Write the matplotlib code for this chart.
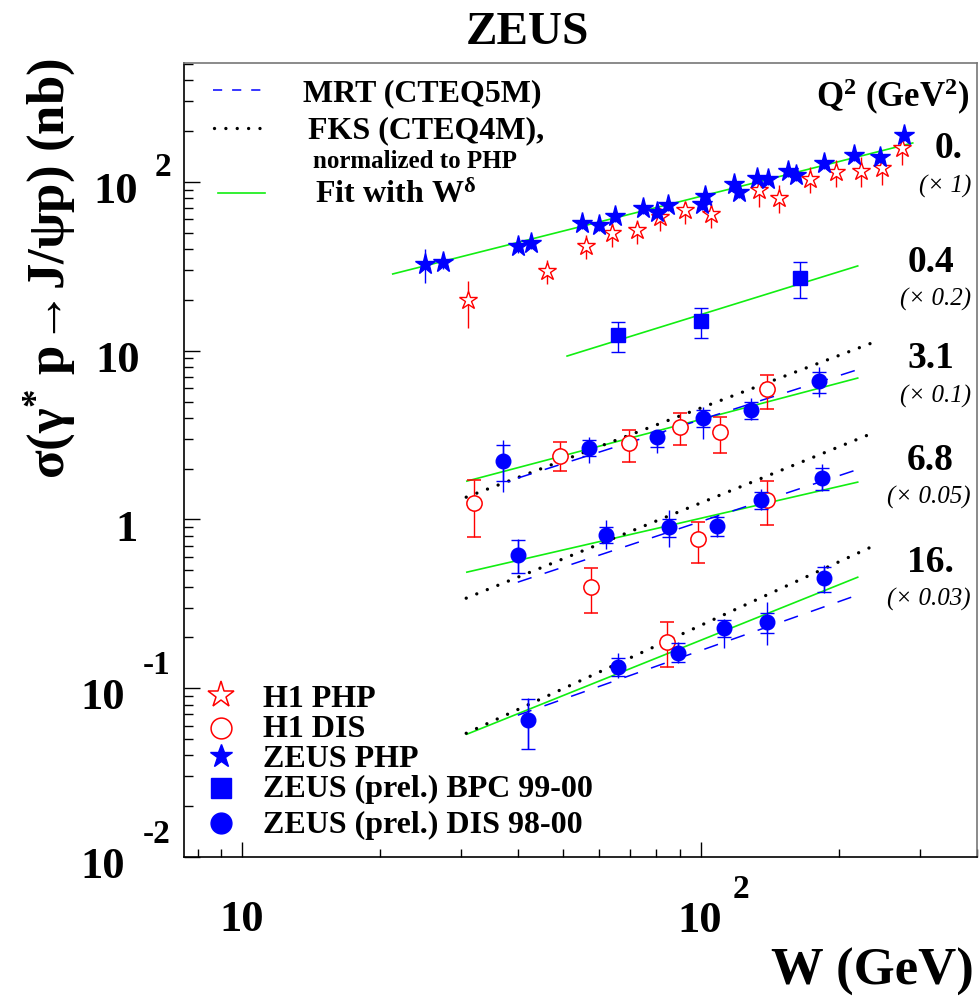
import matplotlib
matplotlib.use('Agg')
import matplotlib.pyplot as plt
from matplotlib.lines import Line2D
from matplotlib.ticker import LogLocator, NullFormatter

# ---------------- data (W in GeV, sigma in nb, already multiplied by the
# scale factor written next to each Q^2 value) ----------------

# Q^2 = 0 : photoproduction
h1_php_w = [31.1, 46.2, 56.2, 64.0, 72.5, 81.4, 92.3, 105.2, 133.8, 147.9,
            172.8, 196.9, 223.2, 248.0, 274.1]
h1_php_sig = [20.0, 29.7, 41.7, 49.8, 51.9, 62.0, 68.2, 64.6, 89.7, 80.4,
              104.2, 114.6, 116.2, 121.1, 159.0]
h1_php_lo = [13.6, 24.8, 35.0, 41.2, 42.9, 51.2, 56.4, 53.4, 71.1, 65.5,
             86.1, 93.4, 93.4, 96.0, 126.1]
h1_php_hi = [25.9, 34.5, 48.5, 57.1, 59.5, 70.1, 76.1, 75.1, 102.8, 96.0,
             122.7, 135.0, 140.7, 140.7, 175.1]

zeus_php_w = [25.0, 27.4, 39.9, 42.6, 55.0, 60.0, 65.0, 74.8, 80.2, 84.7,
              100.5, 102.0, 118.0, 121.0, 132.4, 140.0, 154.7, 161.0,
              185.3, 215.4, 245.5, 276.9]
zeus_php_sig = [32.6, 33.6, 41.7, 43.5, 57.1, 55.6, 62.9, 70.1, 66.4, 73.1,
                74.1, 82.6, 97.3, 87.2, 105.6, 104.2, 116.2, 110.0,
                129.6, 144.6, 140.7, 190.0]
zeus_php_err = [7.4, 3.0, 3.5, 3.6, 4.6, 4.5, 5.0, 5.6, 5.3, 5.8,
                5.9, 6.6, 7.8, 7.0, 8.4, 8.3, 9.3, 8.8, 10.4, 11.6, 11.3, 15.2]

# Q^2 = 0.4 : ZEUS BPC (x 0.2)
bpc_w = [65.9, 100.0, 164.3]
bpc_sig = [12.4, 15.0, 27.0]
bpc_lo = [9.82, 11.9, 20.5]
bpc_hi = [14.8, 17.9, 33.6]

# Q^2 = 3.1 (x 0.1)
zeus_q3_w = [37.0, 57.0, 80.2, 101.0, 128.5, 180.8]
zeus_q3_sig = [2.218, 2.648, 3.078, 3.99, 4.448, 6.61]
zeus_q3_tot_lo = [1.453, 2.158, 2.474, 2.995, 3.88, 5.313]
zeus_q3_tot_hi = [2.954, 3.078, 3.385, 4.634, 5.241, 8.0]
zeus_q3_stat_lo = [1.688, 2.374, 2.685, 3.527, 3.934, 5.61]
zeus_q3_stat_hi = [2.758, 2.954, 3.294, 4.448, 4.963, 7.47]
h1_q3_w = [32.0, 49.3, 69.7, 90.0, 110.0, 139.3]
h1_q3_sig = [1.250, 2.374, 2.835, 3.527, 3.294, 5.927]
h1_q3_lo = [0.786, 1.934, 2.188, 2.758, 2.474, 4.510]
h1_q3_hi = [1.711, 2.873, 3.385, 4.269, 4.044, 7.175]

# Q^2 = 6.8 (x 0.05)
zeus_q7_w = [39.9, 62.1, 85.2, 108.4, 135.1, 183.4]
zeus_q7_sig = [0.6147, 0.8077, 0.901, 0.913, 1.302, 1.759]
zeus_q7_tot_lo = [0.4808, 0.667, 0.6855, 0.786, 1.136, 1.472]
zeus_q7_tot_hi = [0.7645, 0.991, 1.136, 1.061, 1.513, 2.129]
zeus_q7_stat_lo = [0.4808, 0.724, 0.786, 0.7965, 1.152, 1.493]
zeus_q7_stat_hi = [0.7542, 0.901, 1.005, 1.033, 1.453, 2.015]
h1_q7_w = [57.6, 98.5, 139.3]
h1_q7_sig = [0.397, 0.7645, 1.302]
h1_q7_lo = [0.2784, 0.551, 0.9256]
h1_q7_hi = [0.5146, 0.9643, 1.688]

# Q^2 = 16 (x 0.03)
zeus_q16_w = [42.0, 65.9, 89.1, 112.2, 139.3, 185.3]
zeus_q16_sig = [0.0646, 0.1332, 0.1612, 0.2269, 0.2462, 0.4490]
zeus_q16_tot_lo = [0.0435, 0.1147, 0.1407, 0.1727, 0.1799, 0.3659]
zeus_q16_tot_hi = [0.0873, 0.1612, 0.1874, 0.2565, 0.3236, 0.5362]
zeus_q16_stat_lo = [0.0435, 0.1178, 0.1426, 0.2007, 0.2119, 0.3709]
zeus_q16_stat_hi = [0.0860, 0.1506, 0.1849, 0.2530, 0.2784, 0.5217]
h1_q16_w = [84.3]
h1_q16_sig = [0.1874]
h1_q16_lo = [0.1332]
h1_q16_hi = [0.2462]

# curves: end points (straight in log-log)
fit_w = {'0': [21.3, 289.7], '0.4': [51.1, 219.8], '3.1': [30.9, 219.8],
         '6.8': [30.9, 219.8], '16': [30.9, 219.8]}
fit_sig = {'0': [28.5, 170.3], '0.4': [9.30, 31.8], '3.1': [1.688, 6.887],
           '6.8': [0.4874, 1.665], '16': [0.0534, 0.4549]}
fks_w = {'3.1': [30.8, 235.8], '6.8': [30.8, 231.1], '16': [30.8, 234.7]}
fks_sig = {'3.1': [1.356, 11.11], '6.8': [0.3418, 3.162], '16': [0.0541, 0.6855]}
mrt_w = {'3.1': [39.9, 228.8], '6.8': [39.9, 227.7], '16': [39.9, 225.4]}
mrt_sig = {'3.1': [1.759, 8.0], '6.8': [0.4251, 2.043], '16': [0.0692, 0.3659]}

q2_labels = ['0.', '0.4', '3.1', '6.8', '16.']
scale_labels = ['(\u00d7 1)', '(\u00d7 0.2)', '(\u00d7 0.1)', '(\u00d7 0.05)', '(\u00d7 0.03)']

# ---------------- style ----------------
plt.rcParams['font.family'] = ['Liberation Serif', 'DejaVu Serif']
plt.rcParams['font.weight'] = 'bold'
plt.rcParams['mathtext.fontset'] = 'custom'
plt.rcParams['mathtext.rm'] = 'Liberation Serif'
plt.rcParams['mathtext.bf'] = 'Liberation Serif:bold'
plt.rcParams['mathtext.it'] = 'Liberation Serif:italic'

BLUE = '#0000ff'
RED = '#ff0000'
GREEN = '#11ee11'
DOT = (0, (0.01, 3.4))
DASH = (0, (9.5, 9.0))

W_PX, H_PX = 980.0, 999.0


def fxy(px, py):
    return px / W_PX, 1.0 - py / H_PX


def yerr(sig, lo, hi):
    return [[s - l for s, l in zip(sig, lo)], [h - s for s, h in zip(sig, hi)]]


fig = plt.figure(figsize=(9.8, 9.99), dpi=100)
ax = fig.add_axes([184 / W_PX, 1 - 857 / H_PX, (977 - 184) / W_PX, (857 - 63) / H_PX])
ax.set_xscale('log')
ax.set_yscale('log')
ax.set_xlim(7.47, 400)
ax.set_ylim(0.01, 507)

for axis in (ax.xaxis, ax.yaxis):
    axis.set_major_locator(LogLocator(base=10, numticks=10))
    axis.set_minor_locator(LogLocator(base=10, subs=range(2, 10), numticks=30))
    axis.set_major_formatter(NullFormatter())
    axis.set_minor_formatter(NullFormatter())
ax.tick_params(axis='x', which='major', direction='in', length=11, width=1, top=False)
ax.tick_params(axis='x', which='minor', direction='in', length=6, width=1, top=False)
ax.tick_params(axis='y', which='major', direction='in', length=11.5, width=1, right=False)
ax.tick_params(axis='y', which='minor', direction='in', length=6.5, width=1, right=False)
for side in ('left', 'bottom'):
    ax.spines[side].set_linewidth(1.2)
for side in ('top', 'right'):
    ax.spines[side].set_linewidth(1.2)
    ax.spines[side].set_color('#777777')

# ---------------- curves ----------------
for k in fit_w:
    ax.plot(fit_w[k], fit_sig[k], color=GREEN, lw=1.2, zorder=2)
for k in fks_w:
    ax.plot(fks_w[k], fks_sig[k], color='black', lw=2.4, linestyle=DOT,
            dash_capstyle='round', zorder=2)
for k in mrt_w:
    ax.plot(mrt_w[k], mrt_sig[k], color=BLUE, lw=1.1, linestyle=DASH, zorder=2)

# ---------------- data points ----------------
ax.errorbar(h1_php_w, h1_php_sig, yerr=yerr(h1_php_sig, h1_php_lo, h1_php_hi),
            fmt='*', ms=13.5, mfc='white', mec=RED, mew=1.0, ecolor=RED,
            elinewidth=1.0, capsize=0, zorder=3)
ax.errorbar(zeus_php_w, zeus_php_sig, yerr=zeus_php_err, fmt='*', ms=15.5,
            color=BLUE, mec=BLUE, ecolor=BLUE, elinewidth=1.0, capsize=0, zorder=4)
ax.errorbar(bpc_w, bpc_sig, yerr=yerr(bpc_sig, bpc_lo, bpc_hi), fmt='s', ms=10,
            color=BLUE, ecolor=BLUE, elinewidth=1.0, capsize=5, capthick=1, zorder=4)

h1_dis = [(h1_q3_w, h1_q3_sig, h1_q3_lo, h1_q3_hi),
          (h1_q7_w, h1_q7_sig, h1_q7_lo, h1_q7_hi),
          (h1_q16_w, h1_q16_sig, h1_q16_lo, h1_q16_hi)]
for w, s, lo, hi in h1_dis:
    ax.errorbar(w, s, yerr=yerr(s, lo, hi), fmt='o', ms=11, mfc='white',
                mec=RED, mew=1.1, ecolor=RED, elinewidth=1.0, capsize=5,
                capthick=1, zorder=3)

zeus_dis = [(zeus_q3_w, zeus_q3_sig, zeus_q3_tot_lo, zeus_q3_tot_hi, zeus_q3_stat_lo, zeus_q3_stat_hi),
            (zeus_q7_w, zeus_q7_sig, zeus_q7_tot_lo, zeus_q7_tot_hi, zeus_q7_stat_lo, zeus_q7_stat_hi),
            (zeus_q16_w, zeus_q16_sig, zeus_q16_tot_lo, zeus_q16_tot_hi, zeus_q16_stat_lo, zeus_q16_stat_hi)]
for w, s, tlo, thi, slo, shi in zeus_dis:
    ax.errorbar(w, s, yerr=yerr(s, tlo, thi), fmt='none', ecolor=BLUE,
                elinewidth=1.0, capsize=0, zorder=4)
    ax.errorbar(w, s, yerr=yerr(s, slo, shi), fmt='o', ms=10.5, color=BLUE,
                ecolor=BLUE, elinewidth=1.0, capsize=5, capthick=1, zorder=4)

# ---------------- tick labels (ROOT style) ----------------
TICK_FS = 32
EXP_FS = 24
fig.text(*fxy(242, 931), '10', fontsize=TICK_FS, ha='center', va='baseline')
fig.text(*fxy(700, 932), '10', fontsize=TICK_FS, ha='center', va='baseline')
fig.text(*fxy(733, 898), '2', fontsize=EXP_FS, ha='left', va='baseline')

ytick_main = [('10', 138, 203), ('10', 140, 372), ('1', 138, 541),
              ('10', 125, 709), ('10', 125, 878)]
for s, px, py in ytick_main:
    fig.text(*fxy(px, py), s, fontsize=TICK_FS, ha='right', va='baseline')
for s, px, py in [('2', 155, 176), ('-1', 143, 674), ('-2', 143, 843)]:
    fig.text(*fxy(px, py), s, fontsize=EXP_FS, ha='left', va='baseline')

# ---------------- titles ----------------
fig.text(*fxy(527, 44), 'ZEUS', fontsize=34, ha='center', va='baseline')
fig.text(*fxy(974, 985), 'W (GeV)', fontsize=38, ha='right', va='baseline')
ylab = (r'$\mathbf{\mathrm{\sigma}(\mathrm{\gamma}^{*}\ p\!\mathrm{\rightarrow}\!J/'
        r'\mathrm{\psi}p)\ (nb)}$')
fig.text(*fxy(50, 58), ylab, fontsize=38, rotation=90, ha='center', va='top')

# ---------------- Q^2 labels ----------------
fig.text(*fxy(970, 107), r'$\mathbf{Q^{2}\ (GeV^{2})}$', fontsize=25,
         ha='right', va='baseline')
q2_pos = [(963, 158), (954, 272), (954, 368), (954, 470), (954, 572)]
sc_pos = [193, 306, 403, 504, 606]
for lab, (px, py) in zip(q2_labels, q2_pos):
    fig.text(*fxy(px, py), lab, fontsize=27, ha='right', va='baseline')
for lab, py in zip(scale_labels, sc_pos):
    fig.text(*fxy(971, py), lab, fontsize=18, style='italic', weight='normal',
             ha='right', va='baseline')

# ---------------- legend: curves ----------------
def key_line(px0, px1, py, **kw):
    x0, y = fxy(px0, py)
    x1, _ = fxy(px1, py)
    fig.add_artist(Line2D([x0, x1], [y, y], transform=fig.transFigure, **kw))


key_line(213, 262, 90, color=BLUE, lw=1.1, linestyle=(0, (6.0, 6.5)))
key_line(214, 262, 128, color='black', lw=2.4, linestyle=DOT, dash_capstyle='round')
key_line(218, 265, 193, color=GREEN, lw=1.2)
fig.text(*fxy(303, 101), 'MRT (CTEQ5M)', fontsize=23, va='baseline')
fig.text(*fxy(308, 138), 'FKS (CTEQ4M),', fontsize=23, va='baseline')
fig.text(*fxy(313, 168), 'normalized to PHP', fontsize=18, va='baseline')
fig.text(*fxy(315, 203), r'$\mathbf{Fit\ with\ W}^{\mathrm{\delta}}$', fontsize=23,
         va='baseline')

# ---------------- legend: markers ----------------
def key_marker(py, **kw):
    x, y = fxy(221, py)
    fig.add_artist(Line2D([x], [y], transform=fig.transFigure, linestyle='none', **kw))


key_marker(695, marker='*', ms=20, mfc='white', mec=RED, mew=1.1)
key_marker(728, marker='o', ms=15, mfc='white', mec=RED, mew=1.1)
key_marker(756, marker='*', ms=17, mfc=BLUE, mec=BLUE)
key_marker(788, marker='s', ms=15, mfc=BLUE, mec=BLUE)
key_marker(823, marker='o', ms=15, mfc=BLUE, mec=BLUE)
for lab, py in [('H1 PHP', 707), ('H1 DIS', 737), ('ZEUS PHP', 767),
                ('ZEUS (prel.) BPC 99-00', 797), ('ZEUS (prel.) DIS 98-00', 833)]:
    fig.text(*fxy(263, py), lab, fontsize=23, va='baseline')

fig.savefig('out.png', dpi=100)
